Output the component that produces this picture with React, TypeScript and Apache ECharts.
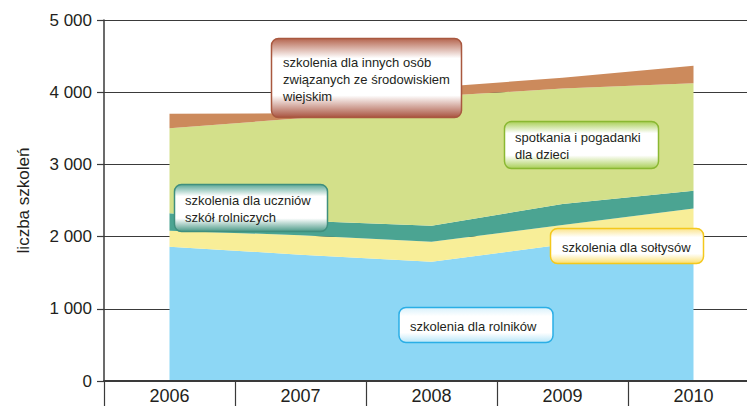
import React, { useEffect, useRef } from "react";
import * as echarts from "echarts";

const years = ["2006", "2007", "2008", "2009", "2010"];
const rolnicy = [1860, 1750, 1650, 1890, 2090];
const soltysi = [220, 270, 280, 270, 300];
const uczniowie = [245, 200, 220, 290, 245];
const dzieci = [1175, 1420, 1790, 1600, 1490];
const inne = [200, 70, 125, 150, 240];
const yTicks = [0, 1000, 2000, 3000, 4000, 5000];

const FONT = "'Liberation Sans', Arial, sans-serif";

function box(
  x: number, y: number, w: number, h: number,
  top: string, bottom: string, stroke: string,
  text: string, tx: number, ty: number, va: "top" | "middle"
) {
  return {
    type: "group",
    z: 100,
    children: [
      {
        type: "rect",
        z: 100,
        shape: { x, y, width: w, height: h, r: 7 },
        style: {
          fill: new echarts.graphic.LinearGradient(0, 0, 0, 1, [
            { offset: 0, color: top },
            { offset: 0.25, color: "#ffffff" },
            { offset: 0.72, color: "#ffffff" },
            { offset: 1, color: bottom },
          ]),
          stroke,
          lineWidth: 1.5,
        },
      },
      {
        type: "text",
        z: 101,
        x: tx,
        y: ty,
        style: {
          text,
          fill: "#231f20",
          font: `13px ${FONT}`,
          lineHeight: 17,
          verticalAlign: va,
          align: "left",
        },
      },
    ],
  };
}

export default function App() {
  const ref = useRef<HTMLDivElement>(null);
  useEffect(() => {
    document.body.style.margin = "0";
    const chart = echarts.init(ref.current!, null, { renderer: "svg" });
    const area = (name: string, data: number[], color: string) => ({
      name,
      type: "line",
      stack: "total",
      data,
      symbol: "none",
      lineStyle: { width: 0 },
      itemStyle: { color },
      areaStyle: { color, opacity: 1 },
    });
    chart.setOption({
      animation: false,
      grid: { left: 104, width: 655, top: 20, bottom: 25, outerBoundsMode: "none", containLabel: false },
      xAxis: {
        type: "category",
        data: years,
        boundaryGap: true,
        axisLine: { show: true, lineStyle: { color: "#3a3a3a", width: 2 } },
        axisTick: { show: true, interval: 0, length: 27, lineStyle: { color: "#3a3a3a", width: 1.2 } },
        axisLabel: { fontSize: 18, color: "#231f20", fontFamily: FONT, margin: 6 },
        z: 10,
      },
      yAxis: {
        type: "value",
        min: 0,
        max: 5000,
        interval: 1000,
        name: "liczba szkoleń",
        nameLocation: "middle",
        nameGap: 72,
        nameTextStyle: { fontSize: 17, color: "#231f20", fontFamily: FONT },
        axisLine: { show: true, lineStyle: { color: "#3a3a3a", width: 1.5 } },
        axisTick: { show: true, length: 7, lineStyle: { color: "#3a3a3a", width: 1.2 } },
        axisLabel: {
          fontSize: 17,
          color: "#231f20",
          fontFamily: FONT,
          margin: 12,
          formatter: (v: number) =>
            yTicks.includes(v) ? String(v).replace(/\B(?=(\d{3})+(?!\d))/g, " ") : "",
        },
        splitLine: { show: true, lineStyle: { color: "#3a3a3a", width: 1.2 } },
      },
      series: [
        area("szkolenia dla rolników", rolnicy, "#8dd7f5"),
        area("szkolenia dla sołtysów", soltysi, "#f8ee98"),
        area("szkolenia dla uczniów szkół rolniczych", uczniowie, "#4ba492"),
        area("spotkania i pogadanki dla dzieci", dzieci, "#d3e08a"),
        area("szkolenia dla innych osób związanych ze środowiskiem wiejskim", inne, "#cc8a5c"),
      ],
      graphic: [
        box(271.5, 38.5, 190, 79, "#b5654f", "#a9533f", "#a9583f",
          "szkolenia dla innych osób\nzwiązanych ze środowiskiem\nwiejskim", 283, 54, "top"),
        box(504.5, 121.5, 154, 47, "#a9cf57", "#a9cf57", "#8ab832",
          "spotkania i pogadanki\ndla dzieci", 515, 129, "top"),
        box(174.5, 184.5, 153, 47, "#5aa796", "#4c9a88", "#3f8f7e",
          "szkolenia dla uczniów\nszkół rolniczych", 185, 191.5, "top"),
        box(550.5, 228.5, 153, 35, "#fbe38a", "#fbe070", "#f4c81c",
          "szkolenia dla sołtysów", 562, 247, "middle"),
        box(399, 307.5, 154, 35, "#d8f1fb", "#b9e6f8", "#2aaee6",
          "szkolenia dla rolników", 410, 326, "middle"),
      ],
    });
    return () => chart.dispose();
  }, []);
  return (
    <div
      ref={ref}
      style={{ position: "absolute", left: 0, top: 0, width: 747, height: 406 }}
    />
  );
}
